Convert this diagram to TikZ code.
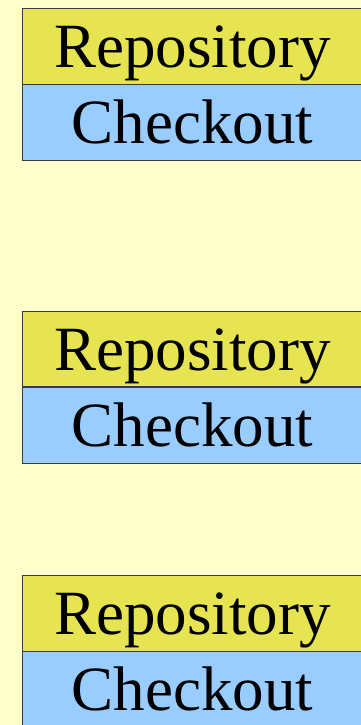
\documentclass[tikz,border=0pt]{standalone}
\usepackage{fontspec}
\setmainfont{Liberation Serif}
\usetikzlibrary{positioning}
\definecolor{paper}{RGB}{255,255,204}
\definecolor{repoyellow}{RGB}{230,228,80}
\definecolor{checkblue}{RGB}{153,204,255}
\definecolor{edgegray}{RGB}{60,60,60}

\begin{document}
\begin{tikzpicture}[x=1pt, y=-1pt,
  part/.style={draw=edgegray, line width=0.8pt, minimum width=340pt, inner sep=0pt,
    text height=59pt, text depth=16.5pt, font=\fontsize{63}{63}\selectfont},
  repobox/.style={part, fill=repoyellow},
  checkbox/.style={part, fill=checkblue}]
%background
\fill[paper] (0,0) rectangle (361,725);
\useasboundingbox (0,0) rectangle (361,725);

%first stack
\node[repobox, anchor=north west] (repoA) at (22,8) {Repository};
\node[checkbox, below=0pt of repoA] (checkA) {Checkout};

%second stack
\node[repobox, anchor=north west] (repoB) at (22,310.7) {Repository};
\node[checkbox, below=0pt of repoB] (checkB) {Checkout};

%third stack
\node[repobox, anchor=north west] (repoC) at (22,575) {Repository};
\node[checkbox, below=0pt of repoC] (checkC) {Checkout};
\end{tikzpicture}
\end{document}
